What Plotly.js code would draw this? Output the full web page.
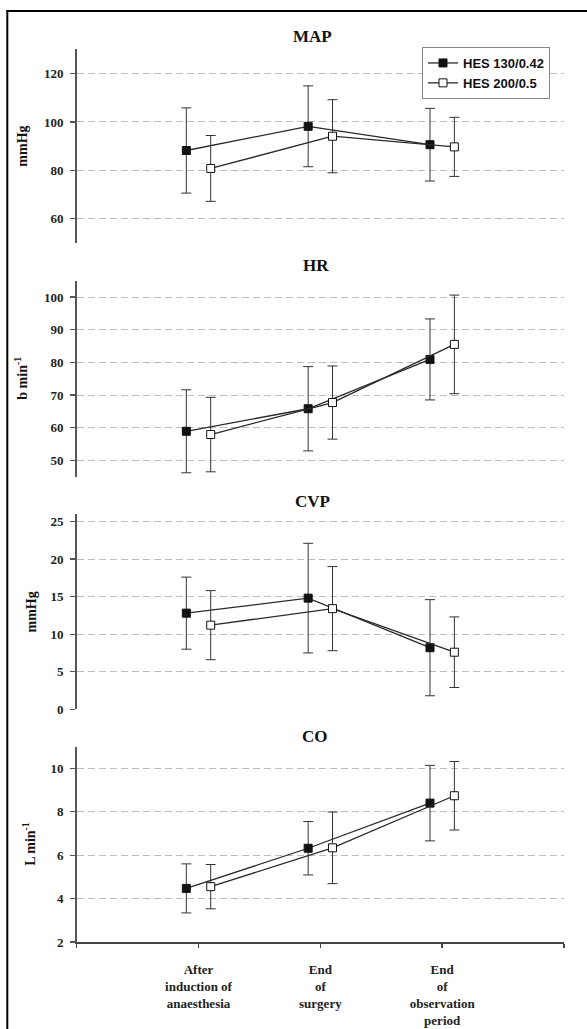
<!DOCTYPE html>
<html>
<head>
<meta charset="utf-8">
<script src="https://cdn.plot.ly/plotly-3.0.1.min.js"></script>
<style>
  html, body { margin: 0; padding: 0; background: #fff; }
  #chart { width: 587px; height: 1029px; }
</style>
</head>
<body>
<div id="chart"></div>
<script>
// ---- Data ----
const categories = ['After<br>induction of<br>anaesthesia', 'End<br>of<br>surgery', 'End<br>of<br>observation<br>period'];
const seriesNames = ['HES 130/0.42', 'HES 200/0.5'];

const panelTitles = ['MAP', 'HR', 'CVP', 'CO'];
const unitLabels = ['mmHg', 'b min<sup>-1</sup>', 'mmHg', 'L min<sup>-1</sup>'];

const mapHes130 = [88.2, 98.2, 90.6];
const mapHes130Sd = [17.6, 16.7, 15.0];
const mapHes200 = [80.8, 94.1, 89.7];
const mapHes200Sd = [13.6, 15.1, 12.2];

const hrHes130 = [58.9, 65.8, 80.9];
const hrHes130Sd = [12.7, 12.9, 12.4];
const hrHes200 = [57.9, 67.7, 85.5];
const hrHes200Sd = [11.4, 11.2, 15.1];

const cvpHes130 = [12.8, 14.8, 8.2];
const cvpHes130Sd = [4.8, 7.3, 6.4];
const cvpHes200 = [11.2, 13.4, 7.6];
const cvpHes200Sd = [4.6, 5.6, 4.7];

const coHes130 = [4.47, 6.32, 8.40];
const coHes130Sd = [1.13, 1.23, 1.74];
const coHes200 = [4.55, 6.34, 8.74];
const coHes200Sd = [1.02, 1.65, 1.58];

// ---- Layout parameters ----
const W = 587, H = 1029;
const serif = 'Liberation Serif, Times New Roman, serif';
const sans = 'Liberation Sans, Arial, sans-serif';
const py = px => 1 - px / H;
const pxX = px => px / W;

const xDomain = [pxX(76.7), pxX(564)];
const panels = [
  { mean: [mapHes130, mapHes200], sd: [mapHes130Sd, mapHes200Sd], top: 49.3, bottom: 243.0, range: [50, 130], dtick: 20, titleY: 36.7, titleX: 312.7, unitX: 22.5 },
  { mean: [hrHes130, hrHes200],   sd: [hrHes130Sd, hrHes200Sd],   top: 280.7, bottom: 476.7, range: [45, 105], dtick: 10, titleY: 265, titleX: 316, unitX: 21 },
  { mean: [cvpHes130, cvpHes200], sd: [cvpHes130Sd, cvpHes200Sd], top: 514.0, bottom: 709.3, range: [0, 26], dtick: 5, titleY: 501, titleX: 312.6, unitX: 31.8 },
  { mean: [coHes130, coHes200],   sd: [coHes130Sd, coHes200Sd],   top: 746.7, bottom: 942.0, range: [2, 11], dtick: 2, titleY: 736.7, titleX: 314.6, unitX: 29.5 }
];
const offsets = [-0.1, 0.1];
const fills = ['#111111', '#ffffff'];

const traces = [];
const layout = {
  width: W, height: H,
  margin: { l: 0, r: 0, t: 0, b: 0 },
  paper_bgcolor: '#ffffff',
  plot_bgcolor: 'rgba(0,0,0,0)',
  showlegend: true,
  legend: {
    x: pxX(422), y: py(47), xanchor: 'left', yanchor: 'top',
    bgcolor: '#ffffff', bordercolor: '#888888', borderwidth: 1,
    font: { family: sans, size: 13, weight: 'bold', color: '#111' },
    tracegroupgap: 0
  },
  annotations: [],
  shapes: [
    { type: 'line', xref: 'paper', yref: 'paper', x0: pxX(7.3), x1: pxX(7.3), y0: py(11), y1: 0, line: { color: '#000', width: 2 } },
    { type: 'line', xref: 'paper', yref: 'paper', x0: pxX(6.3), x1: 1, y0: py(11), y1: py(11), line: { color: '#000', width: 2 } }
  ]
};

panels.forEach((p, k) => {
  const s = k === 0 ? '' : String(k + 1);
  const isLast = k === panels.length - 1;
  p.mean.forEach((vals, j) => {
    traces.push({
      type: 'scatter',
      mode: 'lines+markers',
      name: seriesNames[j],
      legendgroup: seriesNames[j],
      showlegend: k === 0,
      x: categories.map((c, i) => i + 1 + offsets[j]),
      y: vals,
      xaxis: 'x' + s, yaxis: 'y' + s,
      line: { color: '#2a2a2a', width: 1.3 },
      marker: { symbol: 'square', size: 8, color: fills[j], line: { color: '#111', width: 1 } },
      error_y: { type: 'data', array: p.sd[j], visible: true, color: '#333', thickness: 1, width: 5 },
      cliponaxis: false,
      hoverinfo: 'skip'
    });
  });

  const xa = {
    domain: xDomain, range: [0, 4], anchor: 'y' + s,
    showgrid: false, zeroline: false, fixedrange: true
  };
  if (isLast) {
    Object.assign(xa, {
      showline: true, linecolor: '#444', linewidth: 1.5,
      ticks: 'outside', ticklen: 4, tickcolor: '#444', tickwidth: 1.5,
      tickmode: 'array', tickvals: categories.map((c, i) => i + 1), ticktext: categories,
      minor: { ticks: 'outside', ticklen: 4, tickcolor: '#444', tickwidth: 1.5, tick0: 0, dtick: 1, showgrid: false },
      tickfont: { family: serif, size: 13, weight: 'bold', color: '#222' },
      ticklabelstandoff: 11
    });
  } else {
    Object.assign(xa, { showline: false, showticklabels: false, ticks: '' });
  }
  layout['xaxis' + s] = xa;

  layout['yaxis' + s] = {
    domain: [py(p.bottom), py(p.top)], range: p.range, anchor: 'x' + s,
    tick0: 0, dtick: p.dtick,
    showline: true, linecolor: '#555', linewidth: 1.5,
    ticks: 'outside', ticklen: 5, tickcolor: '#555', tickwidth: 1.2,
    showgrid: true, gridcolor: '#bdbdbd', gridwidth: 1, griddash: '7px,4px',
    zeroline: false, fixedrange: true,
    tickfont: { family: serif, size: 13, weight: 'bold', color: '#222' },
    ticklabelstandoff: 4
  };

  layout.annotations.push({
    xref: 'paper', yref: 'paper', x: pxX(p.titleX), y: py(p.titleY),
    xanchor: 'center', yanchor: 'middle', showarrow: false,
    text: '<b>' + panelTitles[k] + '</b>',
    font: { family: serif, size: 17, color: '#111' }
  });
  layout.annotations.push({
    xref: 'paper', yref: 'paper', x: pxX(p.unitX), y: py((p.top + p.bottom) / 2),
    xanchor: 'center', yanchor: 'middle', showarrow: false, textangle: -90,
    text: '<b>' + unitLabels[k] + '</b>',
    font: { family: serif, size: 14, color: '#111' }
  });
});

Plotly.newPlot('chart', traces, layout, { displayModeBar: false, staticPlot: true });
</script>
</body>
</html>
